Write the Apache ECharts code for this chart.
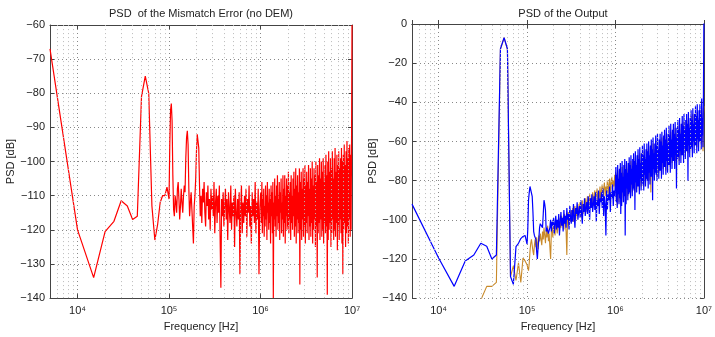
<!doctype html>
<html lang="en">
<head>
<meta charset="UTF-8">
<title>PSD</title>
<script src="https://cdn.jsdelivr.net/npm/echarts@6/dist/echarts.min.js"></script>
<style>
  html, body { margin: 0; padding: 0; background: #fff; }
  #main { width: 715px; height: 337px; }
</style>
</head>
<body>
<div id="main"></div>
<script>
// low frequency FFT bins, kHz (5 kHz spacing)
var lowKHz = [5,10,15,20,25,30,35,40,45,50,55,60,65,70,75,80,85,90,95,100];

// left plot: mismatch error (no DEM), dB at the low bins
var redLow = [-67,-120,-134,-120.5,-117.5,-111.5,-113,-117,-116,-81,-75,-80,-113,-123,-118.5,-112,-110,-110,-107.5,-111];
// 1e5..1e6, 120 samples per decade
var redMid = [
  -95,-85,-83,-88,-104,-114,-116,-110,-112,-115,
  -108,-106,-111,-117,-113,-108,-112,-115,-110,-107,
  -109,-99,-93,-91,-95,-108,-116,-112,-109,-114,
  -119,-124,-113,-110,-105,-97,-92,-91.5,-96,-107,
  -116,-110,-118,-108,-112,-106,-115,-119,-109,-113,
  -107,-117,-111,-120,-108,-114,-110,-116,-106,-121,
  -112,-108,-118,-110,-115,-107,-122,-137,-111,-116,
  -109,-119,-113,-108,-117,-111,-123,-109,-114,-118,
  -107,-120,-112,-116,-110,-125,-108,-115,-119,-111,
  -117,-109,-133,-113,-107,-121,-112,-118,-110,-116,
  -108,-122,-111,-115,-107,-119,-113,-124,-109,-116,
  -111,-118,-106,-121,-112,-117,-108,-133,-114,-110
];
// 1e6..1e7, 200 samples per decade
var redHigh = [
  -109,-118,-106,-121,-111,-116,-108,-122,-113,-119,
  -107,-117,-110,-123,-106,-115,-112,-120,-108,-118,
  -111,-124,-107,-116,-109,-121,-106,-140,-112,-117,
  -105,-119,-110,-122,-107,-116,-104,-120,-111,-118,
  -106,-123,-109,-115,-105,-121,-112,-117,-104,-122,
  -108,-118,-104,-124,-110,-116,-105,-120,-107,-119,
  -103,-121,-109,-117,-106,-123,-104,-118,-110,-120,
  -105,-116,-103,-122,-108,-119,-102,-124,-107,-117,
  -104,-121,-109,-118,-102,-136,-106,-120,-103,-123,
  -108,-117,-102,-122,-105,-119,-101,-124,-107,-118,
  -103,-121,-106,-116,-101,-123,-108,-119,-102,-122,
  -105,-118,-100,-124,-107,-120,-102,-117,-104,-125,
  -100,-119,-106,-134,-101,-121,-104,-118,-99,-123,
  -105,-117,-100,-122,-103,-120,-99,-124,-106,-118,
  -101,-121,-98,-119,-104,-139,-100,-123,-97,-120,
  -103,-118,-99,-125,-102,-121,-97,-117,-105,-123,
  -99,-120,-96,-122,-103,-118,-98,-126,-101,-119,
  -97,-123,-102,-117,-99,-121,-96,-124,-100,-133,
  -98,-120,-95,-118,-101,-125,-97,-121,-94,-119,
  -99,-124,-96,-117,-95,-122,-98,-120,-95,-60
];

// right plot: output PSD, blue trace
var blueLow = [-92,-119.5,-134,-121,-118,-112,-113.5,-120,-118,-12.7,-7,-12.7,-129,-133,-113.7,-112,-109.6,-108.5,-108,-112.4];
var blueMid = [
  -105,-90,-86,-83,-82.5,-84,-88,-96,-106,-108,
  -109,-110,-116,-120,-114,-110,-104,-102,-103,-103,
  -104,-97,-90,-92,-95,-106,-104,-103,-107,-108,
  -104,-100,-106,-101,-103,-99,-107,-102,-98,-105,
  -100,-104,-97,-108,-101,-96,-103,-99,-106,-95,
  -102,-98,-104,-94,-100,-97,-105,-93,-99,-102,
  -95,-101,-92,-98,-104,-94,-97,-91,-100,-96,
  -93,-99,-90,-97,-102,-92,-96,-89,-98,-94,
  -91,-97,-88,-95,-100,-89,-94,-87,-96,-92,
  -88,-95,-86,-101,-90,-93,-85,-97,-89,-91,
  -86,-94,-84,-98,-88,-92,-108,-85,-95,-87,
  -90,-83,-96,-86,-89,-82,-93,-85,-88,-80
];
var blueHigh = [
  -73,-91,-77,-94,-72,-87,-79,-92,-74,-89,
  -71,-97,-76,-93,-70,-86,-78,-91,-72,-88,
  -69,-108,-74,-92,-70,-84,-76,-90,-71,-87,
  -68,-86,-72,-89,-67,-82,-74,-88,-69,-84,
  -66,-85,-70,-95,-65,-81,-72,-86,-67,-83,
  -64,-83,-69,-87,-63,-79,-71,-85,-66,-81,
  -62,-82,-67,-85,-61,-77,-69,-83,-64,-79,
  -61,-80,-65,-84,-60,-76,-67,-82,-62,-78,
  -59,-78,-64,-90,-58,-74,-66,-80,-61,-76,
  -57,-77,-62,-80,-56,-73,-64,-79,-59,-75,
  -56,-75,-60,-79,-55,-71,-62,-77,-57,-73,
  -54,-73,-59,-77,-53,-70,-61,-76,-56,-72,
  -52,-72,-57,-76,-51,-68,-59,-74,-54,-70,
  -51,-70,-56,-74,-50,-67,-58,-84,-53,-69,
  -49,-68,-54,-72,-48,-65,-56,-71,-51,-67,
  -47,-67,-52,-71,-46,-63,-54,-69,-49,-65,
  -46,-65,-51,-80,-45,-62,-53,-68,-48,-64,
  -44,-63,-49,-68,-43,-60,-51,-66,-46,-62,
  -42,-62,-47,-66,-41,-59,-49,-65,-44,-60,
  -41,-60,-46,-64,-38,-57,-48,-63,-36,5
];

// right plot: orange trace (below -140 at the first bins)
var orangeLow = [null,null,null,null,null,-141,-134,-134,-132,-13,-7,-13,-129,-123.5,-131,-122,-132,-119.5,-121,-123];
var orangeMid = [
  -124,-126,-122,-116,-112,-110,-113,-116,-118,-113,
  -110,-114,-109,-112,-115,-108,-111,-107,-110,-113,
  -106,-110,-104,-108,-112,-105,-109,-103,-111,-107,
  -114,-120,-106,-104,-109,-101,-105,-108,-100,-104,
  -107,-102,-99,-106,-101,-104,-98,-103,-100,-105,
  -97,-102,-106,-118,-99,-96,-103,-98,-101,-95,
  -99,-94,-101,-96,-93,-100,-95,-98,-92,-97,
  -94,-91,-99,-93,-90,-97,-92,-95,-89,-96,
  -91,-88,-95,-90,-87,-94,-89,-92,-86,-93,
  -88,-85,-92,-87,-84,-91,-86,-89,-83,-90,
  -85,-82,-89,-84,-81,-88,-83,-86,-80,-87,
  -82,-79,-86,-81,-78,-85,-80,-83,-77,-84
];
var orangeHigh = [
  -76,-90,-80,-93,-75,-87,-82,-91,-78,-89,
  -74,-88,-78,-91,-73,-85,-80,-89,-76,-87,
  -72,-86,-76,-90,-71,-84,-78,-88,-74,-86,
  -71,-85,-75,-88,-70,-82,-77,-86,-73,-84,
  -69,-83,-73,-86,-68,-80,-75,-84,-71,-82,
  -67,-81,-71,-85,-66,-79,-73,-83,-69,-80,
  -66,-80,-70,-83,-65,-77,-72,-81,-68,-79,
  -64,-78,-68,-80,-63,-75,-70,-80,-66,-86,
  -62,-76,-66,-80,-61,-74,-68,-77,-64,-75,
  -61,-75,-65,-78,-60,-72,-67,-76,-63,-74,
  -59,-73,-63,-76,-58,-70,-65,-74,-61,-72,
  -57,-71,-61,-75,-56,-69,-63,-72,-59,-70,
  -56,-70,-60,-73,-55,-67,-62,-71,-58,-69,
  -54,-68,-58,-71,-53,-70,-60,-69,-56,-67,
  -52,-66,-56,-70,-51,-64,-58,-67,-54,-65,
  -51,-65,-55,-68,-50,-62,-57,-66,-53,-64,
  -49,-63,-53,-66,-48,-60,-55,-64,-51,-62,
  -47,-61,-51,-65,-46,-59,-53,-62,-49,-60,
  -46,-60,-50,-63,-45,-57,-52,-61,-48,-59,
  -44,-58,-48,-61,-43,-55,-50,-65,-46,-42
];

// minor grid positions on the log axis
var minorFreq = [6e3,7e3,8e3,9e3,2e4,3e4,4e4,5e4,6e4,7e4,8e4,9e4,
  2e5,3e5,4e5,5e5,6e5,7e5,8e5,9e5,2e6,3e6,4e6,5e6,6e6,7e6,8e6,9e6];

function build(low, mid, high) {
  var out = [];
  for (var i = 0; i < low.length; i++) out.push([lowKHz[i] * 1000, low[i]]);
  for (var j = 0; j < mid.length; j++) out.push([1e5 * Math.pow(10, (j + 1) / 120), mid[j]]);
  for (var k = 0; k < high.length; k++) out.push([1e6 * Math.pow(10, (k + 1) / 200), high[k]]);
  return out;
}

var font = 'Liberation Sans, Arial, Helvetica, sans-serif';
var sup = {'4': '\u2074', '5': '\u2075', '6': '\u2076', '7': '\u2077'};

function xAx(gi, pos, main) {
  return {
    type: 'log', gridIndex: gi, position: pos, min: 5000, max: 1e7,
    name: main ? 'Frequency [Hz]' : '', nameLocation: 'middle', nameGap: 17,
    nameTextStyle: {fontFamily: font, fontSize: 11, color: '#222'},
    axisLine: {show: true, lineStyle: {color: '#444', width: 1}},
    axisTick: {show: true, inside: true, length: 4, lineStyle: {color: '#444'}},
    axisLabel: {
      show: main, margin: 7, fontFamily: font, fontSize: 11, color: '#222',
      formatter: function (v) {
        var e = Math.round(Math.log(v) / Math.LN10);
        if (Math.abs(Math.pow(10, e) - v) > 1e-6 * v) return '';
        return '10' + sup[e];
      }
    },
    splitLine: {show: main, lineStyle: {type: [1, 3], color: '#888', width: 1}},
    minorTick: {show: false}, minorSplitLine: {show: false}
  };
}
function yAx(gi, pos, main, min, max, step) {
  return {
    type: 'value', gridIndex: gi, position: pos, min: min, max: max, interval: step,
    name: main ? 'PSD [dB]' : '', nameLocation: 'middle', nameGap: 26,
    nameTextStyle: {fontFamily: font, fontSize: 11, color: '#222'},
    axisLine: {show: true, lineStyle: {color: '#444', width: 1}},
    axisTick: {show: true, inside: true, length: 4, lineStyle: {color: '#444'}},
    axisLabel: {
      show: main, margin: 5, fontFamily: font, fontSize: 11, color: '#222',
      formatter: function (v) { return String(v).replace('-', '\u2212'); }
    },
    splitLine: {show: main, lineStyle: {type: [1, 3], color: '#888', width: 1}}
  };
}
function minorGrid(xi, yi) {
  return {
    type: 'line', xAxisIndex: xi, yAxisIndex: yi, data: [], z: 1, silent: true,
    markLine: {
      silent: true, symbol: 'none', label: {show: false}, animation: false,
      lineStyle: {type: [1, 3], color: '#bbb', width: 1},
      data: minorFreq.map(function (f) { return {xAxis: f}; })
    }
  };
}

var chart = echarts.init(document.getElementById('main'), null, {renderer: 'canvas'});
chart.setOption({
  animation: false,
  backgroundColor: '#fff',
  title: [
    {text: 'PSD  of the Mismatch Error (no DEM)', left: 201, top: 8, padding: 0, textAlign: 'center',
     textStyle: {fontFamily: font, fontSize: 11, fontWeight: 'normal', color: '#222'}},
    {text: 'PSD of the Output', left: 563, top: 8, padding: 0, textAlign: 'center',
     textStyle: {fontFamily: font, fontSize: 11, fontWeight: 'normal', color: '#222'}}
  ],
  grid: [
    {left: 50, top: 25, width: 302, height: 284},
    {left: 412, top: 24, width: 302, height: 284}
  ],
  xAxis: [xAx(0, 'bottom', true), xAx(0, 'top', false), xAx(1, 'bottom', true), xAx(1, 'top', false)],
  yAxis: [yAx(0, 'left', true, -140, -60, 10), yAx(0, 'right', false, -140, -60, 10),
          yAx(1, 'left', true, -140, 0, 20), yAx(1, 'right', false, -140, 0, 20)],
  series: [
    minorGrid(0, 0),
    minorGrid(2, 2),
    {type: 'line', name: 'mismatch', xAxisIndex: 0, yAxisIndex: 0, z: 3,
     data: build(redLow, redMid, redHigh), showSymbol: false, clip: true,
     lineStyle: {color: '#ff0000', width: 1.2}},
    {type: 'line', name: 'orange', xAxisIndex: 2, yAxisIndex: 2, z: 3,
     data: build(orangeLow, orangeMid, orangeHigh), showSymbol: false, clip: true, connectNulls: false,
     lineStyle: {color: '#c98a2a', width: 1.1}},
    {type: 'line', name: 'output', xAxisIndex: 2, yAxisIndex: 2, z: 4,
     data: build(blueLow, blueMid, blueHigh), showSymbol: false, clip: true,
     lineStyle: {color: '#0000ff', width: 1.2}}
  ]
});
</script>
</body>
</html>
